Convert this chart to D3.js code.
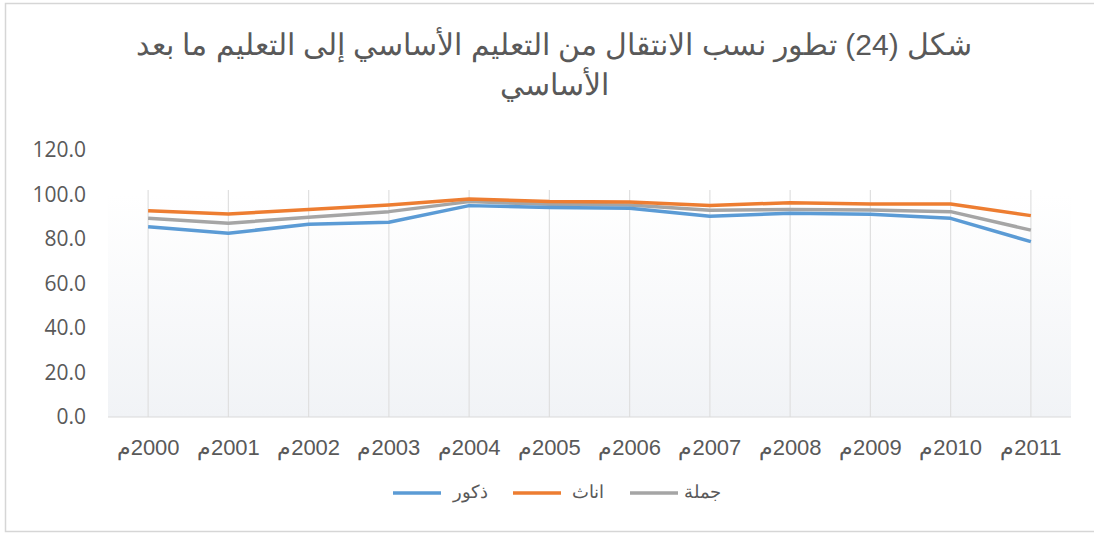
<!DOCTYPE html>
<html>
<head>
<meta charset="utf-8">
<script src="https://cdn.jsdelivr.net/npm/d3@7"></script>
<style>
  body { margin: 0; background: #fff; }
  svg { display: block; }
</style>
</head>
<body>
<script>
// data
const years = ['2000م','2001م','2002م','2003م','2004م','2005م','2006م','2007م','2008م','2009م','2010م','2011م'];
const males   = [85.5, 82.6, 86.6, 87.5, 95.0, 94.2, 93.8, 90.2, 91.6, 91.1, 89.3, 78.8];
const females = [92.7, 91.2, 93.3, 95.3, 98.0, 96.8, 96.6, 95.1, 96.3, 95.7, 95.7, 90.5];
const total   = [89.3, 87.1, 89.8, 92.3, 96.8, 95.6, 95.3, 92.9, 93.3, 93.0, 92.3, 84.0];
const yTicks  = [0, 20, 40, 60, 80, 100, 120];
const seriesNames = ['ذكور', 'اناث', 'جملة'];

const width = 1094, height = 533;
const svg = d3.select('body').append('svg')
    .attr('width', width)
    .attr('height', height);

// outer frame
svg.append('rect')
    .attr('x', 5.5).attr('y', 3.5)
    .attr('width', 1100).attr('height', 528)
    .attr('fill', '#fff')
    .attr('stroke', '#d6d6d6')
    .attr('stroke-width', 1.5);

const x = d3.scaleBand().domain(years).range([108, 1071]).padding(0);
const y = d3.scaleLinear().domain([0, 120]).range([417, 150]);

// faint plot background
const grad = svg.append('defs').append('linearGradient')
    .attr('id', 'bg').attr('x1', 0).attr('y1', 0).attr('x2', 0).attr('y2', 1);
grad.append('stop').attr('offset', '0%').attr('stop-color', '#ffffff');
grad.append('stop').attr('offset', '100%').attr('stop-color', '#f1f3f6');
svg.append('rect')
    .attr('x', 108).attr('y', y(100))
    .attr('width', 963).attr('height', y(0) - y(100))
    .attr('fill', 'url(#bg)');

// vertical gridlines at each category
svg.append('g').selectAll('line')
    .data(years).enter().append('line')
    .attr('x1', d => x(d) + x.bandwidth() / 2)
    .attr('x2', d => x(d) + x.bandwidth() / 2)
    .attr('y1', y(120) + 40).attr('y2', y(0))
    .attr('stroke', '#e0e0e0')
    .attr('stroke-width', 1.2);

// y axis labels
svg.append('g').selectAll('text')
    .data(yTicks).enter().append('text')
    .attr('x', 86)
    .attr('y', d => y(d))
    .attr('dy', '0.34em')
    .attr('text-anchor', 'end')
    .attr('fill', '#595959')
    .style('font-family', '"Open Sans", sans-serif')
    .style('font-size', '21px')
    .text(d => d.toFixed(1));

// x axis line
svg.append('line')
    .attr('x1', 108).attr('x2', 1071)
    .attr('y1', y(0)).attr('y2', y(0))
    .attr('stroke', '#d9d9d9')
    .attr('stroke-width', 1.2);

// x labels
svg.append('g').selectAll('text')
    .data(years).enter().append('text')
    .attr('x', d => x(d) + x.bandwidth() / 2)
    .attr('y', 447)
    .attr('dy', '0.35em')
    .attr('text-anchor', 'middle')
    .attr('direction', 'rtl')
    .attr('fill', '#595959')
    .style('font-family', '"Liberation Sans", Arial, sans-serif')
    .style('font-size', '22px')
    .text(d => d);

// lines
const series = [
  {name: seriesNames[0], values: males,   color: '#5b9bd5'},
  {name: seriesNames[1], values: females, color: '#ed7d31'},
  {name: seriesNames[2], values: total,   color: '#a5a5a5'}
];
const line = d3.line()
    .x((d, i) => x(years[i]) + x.bandwidth() / 2)
    .y(d => y(d));

svg.append('g').selectAll('path')
    .data([series[2], series[0], series[1]]).enter().append('path')
    .attr('d', d => line(d.values))
    .attr('fill', 'none')
    .attr('stroke', d => d.color)
    .attr('stroke-width', 3.5)
    .attr('stroke-linejoin', 'round');

// legend (right to left)
const legendItems = [
  {s: series[2], lx: 630, tx: 721},
  {s: series[1], lx: 513, tx: 604},
  {s: series[0], lx: 393, tx: 488}
];
const lg = svg.append('g');
legendItems.forEach(it => {
  lg.append('line')
    .attr('x1', it.lx).attr('x2', it.lx + 48)
    .attr('y1', 493).attr('y2', 493)
    .attr('stroke', it.s.color)
    .attr('stroke-width', 3.5);
  lg.append('text')
    .attr('x', it.tx).attr('y', 493)
    .attr('dy', '0.3em')
    .attr('text-anchor', 'end')
    .attr('fill', '#595959')
    .style('font-family', '"Liberation Sans", Arial, sans-serif')
    .style('font-size', '18px')
    .text(it.s.name);
});

// title
const title = svg.append('text')
    .attr('text-anchor', 'middle')
    .attr('direction', 'rtl')
    .attr('fill', '#595959')
    .style('font-family', '"Liberation Sans", Arial, sans-serif')
    .style('font-size', '30px');
title.append('tspan')
    .attr('x', 554).attr('y', 55)
    .text('شكل (24) تطور نسب الانتقال من التعليم الأساسي إلى التعليم ما بعد');
title.append('tspan')
    .attr('x', 554).attr('y', 95)
    .text('الأساسي');
</script>
</body>
</html>
